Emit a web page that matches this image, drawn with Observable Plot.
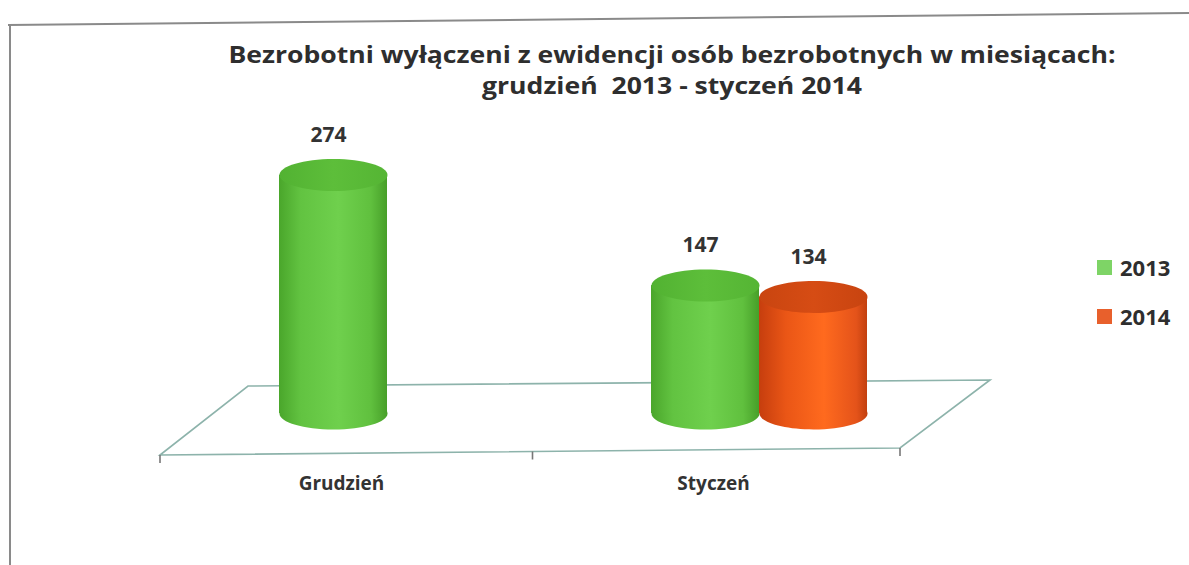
<!DOCTYPE html>
<html>
<head>
<meta charset="utf-8">
<script src="https://cdn.jsdelivr.net/npm/d3@7"></script>
<script src="https://cdn.jsdelivr.net/npm/@observablehq/plot@0.6"></script>
<style>
  html, body { margin: 0; padding: 0; background: #fff; }
  #wrap { position: relative; width: 1189px; height: 565px; overflow: hidden; font-family: "Open Sans", Lato, sans-serif; color: #2e2e2e; }
  #chart { position: absolute; left: 0; top: 0; }
  #title { position: absolute; left: 672px; top: 38px; white-space: pre; text-align: center;
           font-weight: 700; font-size: 24px; line-height: 31px; z-index: 2; transform-origin: 0 0; }
  .frameTop { position: absolute; left: 8px; top: 24px; width: 1200px; height: 0; border-top: 2px solid #8a8a8a; transform-origin: 0 0; transform: rotate(-0.58deg); }
  .frameLeft { position: absolute; left: 9px; top: 24px; width: 0; height: 560px; border-left: 2px solid #8a8a8a; }
  .leg { position: absolute; left: 1097px; display: flex; align-items: center; font-weight: 700; font-size: 22px; z-index: 2; }
  .leg .sw { width: 15px; height: 15px; margin-right: 8px; }
</style>
</head>
<body>
<div id="wrap">
  <div class="frameTop"></div>
  <div class="frameLeft"></div>
  <div id="chart"></div>
  <div id="title"></div>
  <div id="legend"></div>
</div>
<script>
// ---- data ----
const titleLines = ["Bezrobotni wyłączeni z ewidencji osób bezrobotnych w miesiącach:", "grudzień  2013 - styczeń 2014"];
const months = ["Grudzień", "Styczeń"];
const years = ["2013", "2014"];
const barMonths = ["Grudzień", "Styczeń", "Styczeń"];
const barYears = ["2013", "2013", "2014"];
const barValues = [274, 147, 134];
const legendColors = {"2013": "#7ed466", "2014": "#e8602c"};

const data = barValues.map((v, i) => ({month: barMonths[i], year: barYears[i], value: v}));

// title & legend
const titleEl = document.getElementById("title");
titleEl.textContent = titleLines.join("\n");
{
  const w = titleEl.getBoundingClientRect().width;
  const target = 887;
  titleEl.style.transform = `scaleX(${target / w}) translateX(-50%)`;
}
const legendTops = {"2013": 258, "2014": 307};
document.getElementById("legend").innerHTML = years.map(y =>
  `<div class="leg" style="top:${legendTops[y] - 6}px"><div class="sw" style="background:${legendColors[y]}"></div>${y}</div>`).join("");

const W = 1189, H = 565, ML = 160, MR = 284, MT = 152, MB = 152;
const SHIFT = 40;   // perspective offset of the cylinders
const RY = 16;      // half height of cylinder caps

function ellipseSymbol(rx, ry) {
  const k = 0.5523;
  return {
    draw(ctx) {
      ctx.moveTo(-rx, 0);
      ctx.bezierCurveTo(-rx, -ry * k, -rx * k, -ry, 0, -ry);
      ctx.bezierCurveTo(rx * k, -ry, rx, -ry * k, rx, 0);
      ctx.bezierCurveTo(rx, ry * k, rx * k, ry, 0, ry);
      ctx.bezierCurveTo(-rx * k, ry, -rx, ry * k, -rx, 0);
      ctx.closePath();
    }
  };
}

function makePlot(bw) {
  const sym = ellipseSymbol(bw / 2, RY);
  return Plot.plot({
    width: W, height: H,
    marginLeft: ML, marginRight: MR, marginTop: MT, marginBottom: MB,
    style: {fontFamily: "'Open Sans', Lato, sans-serif", background: "transparent"},
    fx: {domain: months, padding: 0, axis: null},
    x: {domain: years, paddingInner: 0, paddingOuter: 0.72, axis: null},
    y: {domain: [0, 300], axis: null},
    color: {type: "identity"},
    marks: [
      Plot.dot(data, {fx: "month", x: "year", y: () => 0, symbol: sym, r: 1, dx: SHIFT,
        fill: d => `url(#body${d.year})`, stroke: "none"}),
      Plot.barY(data, {fx: "month", x: "year", y: "value", dx: SHIFT,
        fill: d => `url(#body${d.year})`}),
      Plot.dot(data, {fx: "month", x: "year", y: "value", symbol: sym, r: 1, dx: SHIFT,
        fill: d => `url(#top${d.year})`, stroke: "none"}),
      Plot.text(data, {fx: "month", x: "year", y: "value", text: d => String(d.value), dy: -40, dx: SHIFT - 5,
        fontSize: 21, fontWeight: 700, fill: "#333"}),
      Plot.axisFx({anchor: "bottom", tickSize: 0, fontSize: 19, fontWeight: 700, fill: "#333", dy: 54, dx: -6, label: null})
    ]
  });
}

const probe = makePlot(100);
const bw = probe.scale("x").bandwidth;
const plot = makePlot(bw);
document.getElementById("chart").appendChild(plot);

// gradients & floor
const svg = d3.select(plot);
const defs = svg.insert("defs", ":first-child");
function grad(id, stops) {
  const g = defs.append("linearGradient").attr("id", id).attr("x1", 0).attr("x2", 1).attr("y1", 0).attr("y2", 0);
  stops.forEach(([o, c]) => g.append("stop").attr("offset", o).attr("stop-color", c));
}
grad("body2013", [[0, "#4aa62b"], [0.2, "#62c341"], [0.55, "#6fd04d"], [0.85, "#60c03e"], [1, "#479f29"]]);
grad("top2013", [[0, "#52b232"], [0.5, "#5dbe3a"], [1, "#55b534"]]);
grad("body2014", [[0, "#c63e0e"], [0.25, "#ea5616"], [0.6, "#ff6a1e"], [0.9, "#e4531a"], [1, "#c2400f"]]);
grad("top2014", [[0, "#c94510"], [0.5, "#d64c14"], [1, "#c84410"]]);

const ys = plot.scale("y");
const y0 = ys.apply(0);
const x0 = ML, x1 = W - MR;
const xm = x0 + (x1 - x0) / 2;
const floor = svg.insert("g", "defs + *").attr("fill", "none");
floor.append("path")
  .attr("d", `M${x0},${y0 + 42}L${x1 - 5},${y0 + 35}L${x1 + 85},${y0 - 33}L${x0 + 88},${y0 - 27}Z`)
  .attr("stroke", "#8db3ab").attr("stroke-width", 1.6);
[x0, xm, x1 - 5].forEach((x, i) => {
  const yb = y0 + 42 - (i / 2) * 7;
  floor.append("line").attr("x1", x).attr("x2", x).attr("y1", yb).attr("y2", yb + 8)
    .attr("stroke", "#777").attr("stroke-width", 1.6);
});
</script>
</body>
</html>
